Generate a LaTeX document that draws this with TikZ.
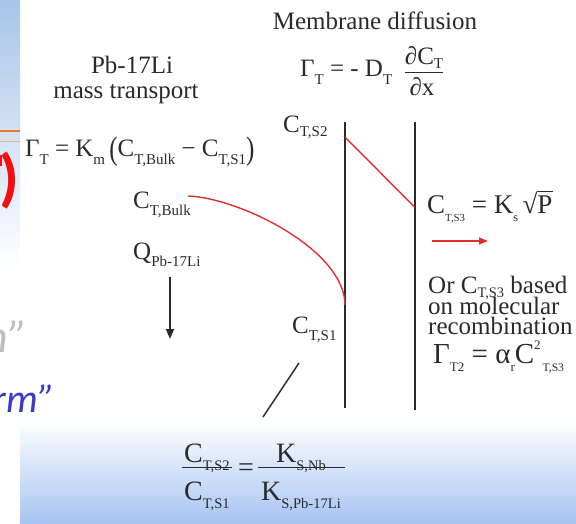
\documentclass[tikz,border=0pt]{standalone}
\usepackage{fontspec}
\setmainfont{Liberation Serif}
\newfontfamily\calfont{Carlito}
\usepackage{graphicx}
\usetikzlibrary{arrows.meta}
\definecolor{ink}{HTML}{2A2A2A}
\definecolor{redline}{HTML}{E0302C}
\definecolor{bluetop}{HTML}{A7C5E8}
\definecolor{bluebot}{HTML}{A6C3F2}
\definecolor{orangeline}{HTML}{F07A1E}
\definecolor{lightorange}{HTML}{E9B48F}
\definecolor{grayword}{HTML}{BDBDBD}
\definecolor{blueword}{HTML}{3838CC}
\definecolor{paren}{HTML}{F01010}
\newcommand\lo[2][0.6]{\raisebox{-0.3em}[0pt][0pt]{\scalebox{#1}{#2}}}
\newcommand\los[2][0.6]{\raisebox{-0.15em}[0pt][0pt]{\scalebox{#1}{#2}}}
\newcommand\hi[2][0.45]{\raisebox{0.45em}[0pt][0pt]{\scalebox{#1}{#2}}}
\newcommand\bigp[1]{\raisebox{-0.12em}{\scalebox{1}[1.3]{#1}}}
\begin{document}
\begin{tikzpicture}[x=1pt,y=-1pt,
  lbl/.style={inner sep=0pt, text=ink, font=\fontsize{25}{29}\selectfont},
  eqbig/.style={inner sep=0pt, text=ink, font=\fontsize{28}{32}\selectfont},
  wall/.style={draw=ink, line width=2pt},
  prof/.style={draw=redline, line width=1.4pt},
  bar/.style={draw=ink, line width=1pt},
  thin/.style={draw=ink, line width=1.5pt},
]
\useasboundingbox (0,0) rectangle (576,524);
\clip (0,0) rectangle (576,524);
% backgrounds
\shade[top color=bluetop, bottom color=white] (0,0) rectangle (20,270);
\shade[top color=white, bottom color=bluebot] (20,420) rectangle (576,524);
\draw[orangeline, line width=2.5pt] (0,131) -- (20,131);
\draw[lightorange, line width=1pt] (0,142) -- (20,142);
\node[inner sep=0pt, anchor=base west, text=paren, font=\calfont\bfseries\fontsize{64}{70}\selectfont] (rp) at (-1,200) {)};
\fill[paren] (0,155) rectangle (2,166);
\node[inner sep=0pt, anchor=base east, text=grayword, font=\calfont\itshape\fontsize{46}{50}\selectfont] (gw) at (28,352) {n”};
\node[inner sep=0pt, anchor=base east, text=blueword, font=\calfont\itshape\fontsize{40}{44}\selectfont] (bw) at (55,412) {rm”};

% titles
\node[lbl, anchor=base] (pbt) at (132,74) {Pb-17Li};
\node[lbl, anchor=base] (mt) at (126,99) {mass transport};
\node[lbl, anchor=base] (md) at (375,30) {Membrane diffusion};

% mass transport equation
\node[lbl, anchor=base west] (eqm) at (25,157)
  {Γ\lo{T} = K\lo{m}\,\bigp{(}C\lo{T,Bulk} − C\lo{T,S1}\bigp{)}};

% diffusion equation
\node[lbl, anchor=base west] (eqd) at (300,77) {Γ\lo{T} = - D\lo{T}};
\node[lbl, anchor=base] (dnum) at (424,65) {∂C\los{T}};
\node[lbl, anchor=base] (dden) at (422,96) {∂x};
\coordinate (db1) at (405,73);
\coordinate (db2) at (443,73);
\draw[bar] (db1) -- (db2);

% labels
\node[lbl, anchor=base west] (cbulk) at (133,208) {C\lo{T,Bulk}};
\node[lbl, anchor=base west] (q) at (133,259) {Q\lo{Pb-17Li}};
\node[lbl, anchor=base west] (cs2) at (283,133) {C\los{T,S2}};
\node[lbl, anchor=base west] (cs1) at (292,333) {C\lo{T,S1}};

% membrane walls
\coordinate (w1t) at (345,122);
\coordinate (w1b) at (345,408);
\coordinate (w2t) at (414.5,122);
\coordinate (w2b) at (414.5,410);
\draw[wall] (w1t) -- (w1b);
\draw[wall] (w2t) -- (w2b);

% concentration profile
\coordinate (pb) at (188,196);
\coordinate (ps1) at (345,305);
\coordinate (ps2) at (345,137);
\coordinate (ps3) at (414.5,207);
\draw[prof] (pb) .. controls (240,198) and (345,250) .. (ps1);
\draw[prof] (ps2) -- (ps3);

% flow arrow
\coordinate (qa) at (170,277);
\coordinate (qb) at (170,339);
\draw[thin, -{Triangle[length=10pt,width=8pt]}] (qa) -- (qb);

% permeation arrow
\coordinate (ra) at (432,241);
\coordinate (rb) at (488,241);
\draw[draw=redline, line width=1.5pt, -{Triangle[length=9pt,width=7pt]}, redline] (ra) -- (rb);

% Sieverts equation
\node[inner sep=0pt, text=ink, font=\fontsize{27}{31}\selectfont, anchor=base west] (eqs) at (427,213)
  {C\lo[0.4]{T,S3} = K\lo[0.45]{s}\,√\rlap{\rule[0.76em]{0.58em}{0.05em}}P};

% recombination text
\node[inner sep=0pt, text=ink, font=\fontsize{25}{20.5}\selectfont, align=left, anchor=north west] (ortxt) at (428,276)
  {Or C\los[0.58]{T,S3} based\\on molecular\\recombination};
\node[inner sep=0pt, text=ink, font=\fontsize{29}{33}\selectfont, anchor=base west] (eqr) at (433,363)
  {Γ\lo[0.45]{T2} = α\lo[0.45]{r}C\hi{2}\lo[0.4]{\,T,S3}};

% diagonal pointer
\coordinate (da) at (299,363);
\coordinate (db) at (263,417);
\draw[thin] (da) -- (db);

% partition equation
\node[eqbig, anchor=base] (fn1) at (207,462) {C\lo[0.52]{T,S2}};
\node[eqbig, anchor=base] (fd1) at (207,500) {C\lo[0.52]{T,S1}};
\coordinate (fb1a) at (182,467);
\coordinate (fb1b) at (232,467);
\draw[bar] (fb1a) -- (fb1b);
\node[eqbig, anchor=base] (feq) at (246,476) {=};
\node[eqbig, anchor=base] (fn2) at (301,462) {K\lo[0.52]{S,Nb}};
\node[eqbig, anchor=base] (fd2) at (301,500) {K\lo[0.52]{S,Pb-17Li}};
\coordinate (fb2a) at (258,467);
\coordinate (fb2b) at (345,467);
\draw[bar] (fb2a) -- (fb2b);
\end{tikzpicture}
\end{document}
